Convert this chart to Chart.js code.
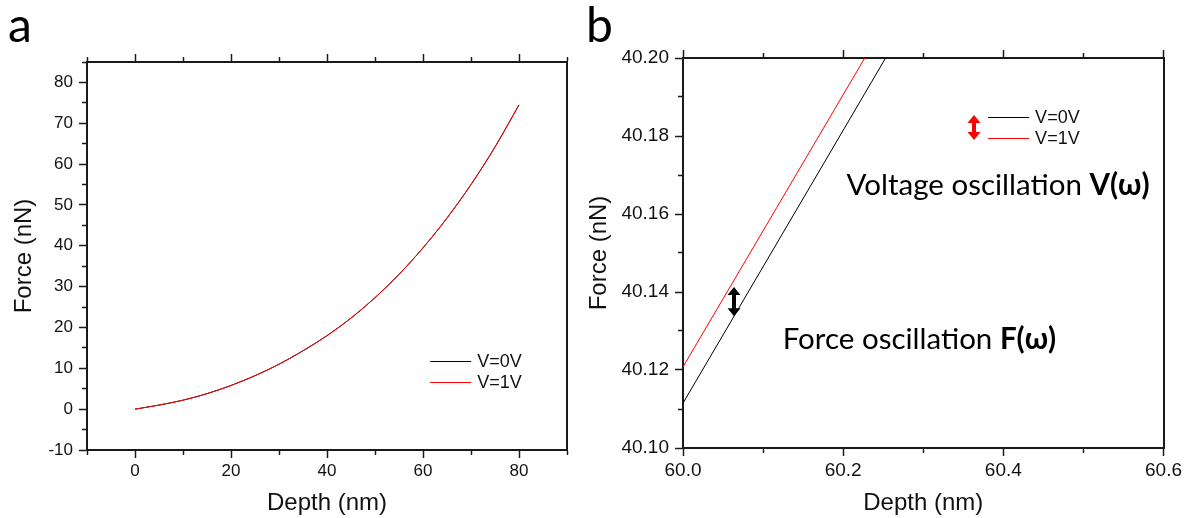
<!DOCTYPE html>
<html>
<head>
<meta charset="utf-8">
<script src="https://cdn.jsdelivr.net/npm/chart.js@4.4.0/dist/chart.umd.min.js"></script>
<style>
html, body { margin: 0; padding: 0; background: #fff; }
#wrap { position: relative; width: 1185px; height: 518px; overflow: hidden; }
canvas { position: absolute; top: 0; }
.tag { position: absolute; top: 0; font-family: Lato, 'Open Sans', sans-serif; font-size: 48px; line-height: 1; color: #000; }
</style>
</head>
<body>
<div id="wrap">
  <canvas id="chartA" width="585" height="518" style="left:0"></canvas>
  <canvas id="chartB" width="610" height="518" style="left:575px"></canvas>
  <div class="tag" style="left:8px">a</div>
  <div class="tag" style="left:586px">b</div>
</div>
<script>
// panel a: whole loading curve
var depthA = [0, 5, 10, 15, 20, 25, 30, 35, 40, 45, 50, 55, 60, 65, 70, 75, 80];
var forceA0 = [0, 1.0, 2.2, 3.8, 5.8, 8.2, 11.0, 14.3, 18.0, 22.3, 27.3, 33.0, 39.5, 46.8, 55.0, 64.2, 74.5];
var forceA1 = [0, 1.0, 2.2, 3.8, 5.8, 8.2, 11.0, 14.3, 18.0, 22.3, 27.3, 33.0, 39.5, 46.8, 55.0, 64.2, 74.5];

// panel b: zoom around 60 nm
var depthB0 = [60.0, 60.253];
var forceB0 = [40.1115, 40.2];
var depthB1 = [60.0, 60.227];
var forceB1 = [40.1208, 40.2];

var seriesLabels = ['V=0V', 'V=1V'];
var seriesColors = ['#000000', '#ff0000'];

// labelled (major) ticks
var xTicksA = [0, 20, 40, 60, 80];
var yTicksA = [-10, 0, 10, 20, 30, 40, 50, 60, 70, 80];
var xTicksB = [60.0, 60.2, 60.4, 60.6];
var yTicksB = [40.10, 40.12, 40.14, 40.16, 40.18, 40.20];

var ink = '#1a1a1a';
var sans = "'Liberation Sans', Arial, sans-serif";
var TL = 8;

function pts(xs, ys) {
    return xs.map(function (x, i) { return { x: x, y: ys[i] }; });
}

function isMajor(v, majors) {
    for (var i = 0; i < majors.length; i++) {
        if (Math.abs(v - majors[i]) < 1e-7) return true;
    }
    return false;
}

// one axis; minor ticks are drawn shorter with a dash pattern
function axis(pos, min, max, step, majors, digits, size, title, showTicks, showLabels, fontSize) {
    var vertical = pos === 'left' || pos === 'right';
    var outerFirst = pos === 'left' || pos === 'top';
    var a = {
        type: 'linear',
        position: pos,
        min: min,
        max: max,
        afterFit: function (s) {
            if (vertical) s.width = size; else s.height = size;
        },
        border: { display: true, color: ink, width: 2 },
        grid: {
            display: showTicks,
            drawOnChartArea: false,
            drawTicks: true,
            tickLength: TL,
            tickColor: ink,
            tickWidth: 1.5,
            tickBorderDash: function (c) {
                return (!c.tick || isMajor(c.tick.value, majors)) ? [] : [4, 30];
            },
            tickBorderDashOffset: function (c) {
                if (!c.tick || isMajor(c.tick.value, majors)) return 0;
                return outerFirst ? 34 - (TL - 1 - 4) : 0;
            }
        },
        ticks: {
            display: showLabels,
            stepSize: step,
            autoSkip: false,
            maxRotation: 0,
            padding: vertical ? 6 : 3,
            color: '#111',
            font: { family: sans, size: fontSize },
            callback: function (v) { return isMajor(v, majors) ? v.toFixed(digits) : ''; }
        }
    };
    if (title) {
        a.title = {
            display: true,
            text: title,
            color: '#111',
            font: { family: sans, size: 24 },
            padding: vertical ? { top: 10, bottom: 0 } : { top: 0, bottom: 0 }
        };
    }
    return a;
}

function arrow(ctx, x, yTop, yBot, color, shaft, headW, headL) {
    ctx.fillStyle = color;
    ctx.strokeStyle = color;
    ctx.lineWidth = shaft;
    ctx.beginPath();
    ctx.moveTo(x, yTop + headL - 1);
    ctx.lineTo(x, yBot - headL + 1);
    ctx.stroke();
    ctx.beginPath();
    ctx.moveTo(x, yTop);
    ctx.lineTo(x - headW / 2, yTop + headL);
    ctx.lineTo(x + headW / 2, yTop + headL);
    ctx.closePath();
    ctx.fill();
    ctx.beginPath();
    ctx.moveTo(x, yBot);
    ctx.lineTo(x - headW / 2, yBot - headL);
    ctx.lineTo(x + headW / 2, yBot - headL);
    ctx.closePath();
    ctx.fill();
}

// in-plot legend, arrows and notes, placed in data coordinates
function overlay(cfg) {
    return {
        id: 'overlay',
        afterDatasetsDraw: function (chart) {
            var ctx = chart.ctx, sx = chart.scales.x, sy = chart.scales.y;
            ctx.save();
            var lg = cfg.legend;
            var lx = sx.getPixelForValue(lg.x), ly = sy.getPixelForValue(lg.y);
            chart.data.datasets.forEach(function (ds, i) {
                var yy = Math.round(ly + i * lg.gap) + 0.5;
                ctx.strokeStyle = ds.borderColor;
                ctx.lineWidth = 1;
                ctx.beginPath();
                ctx.moveTo(lx, yy);
                ctx.lineTo(lx + lg.len, yy);
                ctx.stroke();
                ctx.fillStyle = '#111';
                ctx.font = '18px ' + sans;
                ctx.textBaseline = 'middle';
                ctx.fillText(ds.label, lx + lg.len + 6, yy + 1);
            });
            (cfg.arrows || []).forEach(function (a) {
                arrow(ctx, Math.round(sx.getPixelForValue(a.x)), sy.getPixelForValue(a.y2), sy.getPixelForValue(a.y1),
                    a.color, a.shaft, a.headW, a.headL);
            });
            (cfg.notes || []).forEach(function (n) {
                var x = sx.getPixelForValue(n.x), y = sy.getPixelForValue(n.y);
                ctx.fillStyle = '#000';
                ctx.textBaseline = 'alphabetic';
                n.parts.forEach(function (p) {
                    ctx.font = p[1] + ' ' + n.size + "px Lato, 'Open Sans', sans-serif";
                    ctx.fillText(p[0], x, y);
                    x += ctx.measureText(p[0]).width;
                });
            });
            ctx.restore();
        }
    };
}

function makeChart(id, d0x, d0y, d1x, d1y, scales, cfg) {
    return new Chart(document.getElementById(id), {
        type: 'line',
        data: {
            datasets: [{
                label: seriesLabels[0],
                data: pts(d0x, d0y),
                borderColor: seriesColors[0],
                borderWidth: 1,
                cubicInterpolationMode: 'monotone',
                pointRadius: 0,
                order: 2
            }, {
                label: seriesLabels[1],
                data: pts(d1x, d1y),
                borderColor: seriesColors[1],
                borderWidth: 1,
                cubicInterpolationMode: 'monotone',
                pointRadius: 0,
                order: 1
            }]
        },
        options: {
            responsive: false,
            animation: false,
            layout: { padding: 0 },
            plugins: { legend: { display: false }, tooltip: { enabled: false } },
            scales: scales
        },
        plugins: [overlay(cfg)]
    });
}

makeChart('chartA', depthA, forceA0, depthA, forceA1, {
    x: axis('bottom', -10, 90, 10, xTicksA, 0, 68, 'Depth (nm)', true, true, 17),
    y: axis('left', -10, 85, 5, yTicksA, 0, 87, 'Force (nN)', true, true, 17),
    xt: axis('top', -10, 90, 10, xTicksA, 0, 62, null, true, false, 17),
    yr: axis('right', -10, 85, 5, yTicksA, 0, 18, null, false, false, 17)
}, {
    legend: { x: 61.5, y: 11.9, gap: 21.5, len: 41 }
});

makeChart('chartB', depthB0, forceB0, depthB1, forceB1, {
    x: axis('bottom', 60.0, 60.6, 0.1, xTicksB, 1, 70, 'Depth (nm)', true, true, 19),
    y: axis('left', 40.10, 40.20, 0.01, yTicksB, 2, 108, 'Force (nN)', true, true, 19),
    xt: axis('top', 60.0, 60.6, 0.1, xTicksB, 1, 58, null, true, false, 19),
    yr: axis('right', 40.10, 40.20, 0.01, yTicksB, 2, 20, null, false, false, 19)
}, {
    legend: { x: 60.381, y: 40.1849, gap: 21.5, len: 41 },
    arrows: [
        { x: 60.3635, y1: 40.1790, y2: 40.1854, color: '#ff0000', shaft: 4, headW: 13, headL: 8 },
        { x: 60.0635, y1: 40.1338, y2: 40.1413, color: '#000000', shaft: 4, headW: 13, headL: 8 }
    ],
    notes: [
        { x: 60.2042, y: 40.1649, size: 29.5, parts: [['Voltage oscillation ', 'normal'], ['V(\u03c9)', 'bold']] },
        { x: 60.1245, y: 40.1254, size: 29.5, parts: [['Force oscillation ', 'normal'], ['F(\u03c9)', 'bold']] }
    ]
});
</script>
</body>
</html>
